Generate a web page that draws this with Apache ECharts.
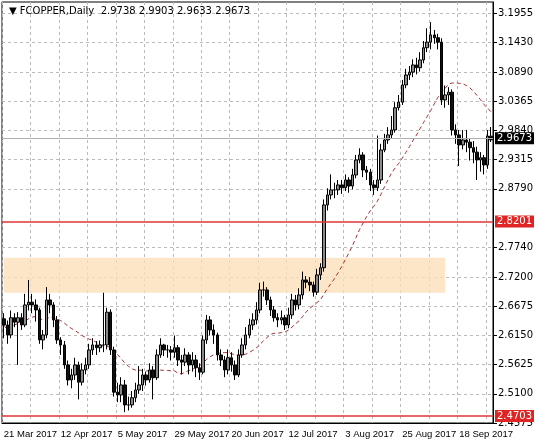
<!DOCTYPE html>
<html><head><meta charset="utf-8">
<script src="https://cdn.jsdelivr.net/npm/echarts@6/dist/echarts.min.js"></script>
<style>html,body{margin:0;padding:0;background:#fff}#c{width:536px;height:446px}</style>
</head><body><div id="c"></div>
<script>
const closes=[2.634,2.616,2.647,2.639,2.647,2.634,2.670,2.675,2.670,2.661,2.607,2.616,2.679,2.670,2.643,2.607,2.598,2.562,2.535,2.544,2.562,2.531,2.553,2.562,2.589,2.598,2.593,2.598,2.598,2.657,2.589,2.513,2.508,2.526,2.490,2.490,2.503,2.517,2.526,2.544,2.535,2.553,2.539,2.580,2.598,2.589,2.589,2.585,2.593,2.571,2.567,2.580,2.562,2.571,2.557,2.549,2.607,2.643,2.625,2.616,2.580,2.571,2.553,2.575,2.562,2.544,2.580,2.598,2.616,2.634,2.643,2.661,2.697,2.697,2.679,2.661,2.647,2.643,2.647,2.634,2.652,2.679,2.670,2.688,2.715,2.711,2.706,2.693,2.724,2.737,2.850,2.868,2.877,2.877,2.886,2.881,2.895,2.884,2.904,2.931,2.940,2.913,2.909,2.886,2.881,2.895,2.949,2.967,2.976,2.985,3.025,3.035,3.066,3.084,3.089,3.102,3.097,3.111,3.133,3.143,3.156,3.151,3.143,3.039,3.048,3.053,2.985,2.976,2.958,2.967,2.963,2.953,2.945,2.931,2.935,2.922,2.974,2.9673];
const opens=[2.645,2.634,2.616,2.647,2.639,2.647,2.634,2.670,2.675,2.670,2.661,2.607,2.616,2.679,2.670,2.643,2.607,2.598,2.562,2.535,2.544,2.562,2.531,2.553,2.562,2.589,2.598,2.593,2.598,2.598,2.657,2.589,2.513,2.508,2.526,2.490,2.490,2.503,2.517,2.526,2.544,2.535,2.553,2.539,2.580,2.598,2.589,2.589,2.585,2.593,2.571,2.567,2.580,2.562,2.571,2.557,2.549,2.607,2.643,2.625,2.616,2.580,2.571,2.553,2.575,2.562,2.544,2.580,2.598,2.616,2.634,2.643,2.661,2.697,2.697,2.679,2.661,2.647,2.643,2.647,2.634,2.652,2.679,2.670,2.688,2.715,2.711,2.706,2.693,2.724,2.737,2.850,2.868,2.877,2.877,2.886,2.881,2.895,2.884,2.904,2.931,2.940,2.913,2.909,2.886,2.881,2.895,2.949,2.967,2.976,2.985,3.025,3.035,3.066,3.084,3.089,3.102,3.097,3.111,3.133,3.143,3.156,3.151,3.143,3.039,3.048,3.053,2.985,2.976,2.958,2.967,2.963,2.953,2.945,2.931,2.935,2.922,2.9738];
const highs=[2.655,2.642,2.660,2.655,2.657,2.655,2.690,2.715,2.690,2.680,2.665,2.625,2.702,2.690,2.675,2.650,2.612,2.605,2.570,2.555,2.575,2.568,2.565,2.575,2.600,2.610,2.605,2.606,2.692,2.665,2.662,2.595,2.530,2.540,2.535,2.505,2.515,2.530,2.560,2.555,2.550,2.565,2.560,2.590,2.610,2.600,2.598,2.596,2.615,2.598,2.580,2.592,2.585,2.585,2.580,2.565,2.615,2.652,2.650,2.635,2.620,2.590,2.578,2.590,2.585,2.570,2.590,2.610,2.630,2.645,2.655,2.675,2.710,2.712,2.702,2.685,2.668,2.655,2.660,2.652,2.665,2.690,2.688,2.700,2.730,2.722,2.720,2.712,2.735,2.745,2.860,2.880,2.905,2.890,2.895,2.895,2.905,2.900,2.915,2.940,2.952,2.945,2.920,2.915,2.895,2.975,2.960,2.978,2.990,3.010,3.035,3.048,3.075,3.095,3.100,3.112,3.115,3.125,3.145,3.168,3.179,3.165,3.158,3.150,3.065,3.062,3.058,2.995,2.985,2.985,2.985,2.970,2.965,2.955,2.945,2.940,2.985,2.9903];
const lows=[2.610,2.600,2.610,2.630,2.562,2.625,2.630,2.660,2.655,2.640,2.600,2.590,2.610,2.655,2.630,2.600,2.580,2.555,2.525,2.520,2.535,2.500,2.525,2.545,2.555,2.580,2.580,2.585,2.585,2.590,2.580,2.505,2.495,2.495,2.477,2.480,2.485,2.495,2.510,2.515,2.525,2.530,2.500,2.535,2.575,2.578,2.575,2.570,2.575,2.560,2.545,2.560,2.545,2.550,2.540,2.535,2.545,2.600,2.615,2.600,2.570,2.560,2.540,2.545,2.550,2.535,2.540,2.575,2.590,2.610,2.625,2.635,2.655,2.685,2.670,2.650,2.640,2.630,2.635,2.625,2.628,2.645,2.660,2.662,2.680,2.700,2.695,2.685,2.688,2.715,2.730,2.840,2.860,2.862,2.868,2.870,2.875,2.872,2.878,2.898,2.925,2.900,2.895,2.875,2.868,2.875,2.888,2.945,2.960,2.970,2.980,3.020,3.030,3.060,3.075,3.080,3.085,3.090,3.105,3.125,3.130,3.140,3.130,3.030,3.025,3.030,2.975,2.960,2.920,2.950,2.945,2.930,2.925,2.895,2.910,2.905,2.915,2.9633];
const yTickValues=[2.4575,2.5100,2.5625,2.6150,2.6675,2.7200,2.7740,2.8790,2.9315,2.9840,3.0365,3.0890,3.1430,3.1955];
const supportLevels=[2.8201,2.4703];
const lastPrice=2.9673;
const zoneLow=2.692, zoneHigh=2.755, zoneEndIndex=124;
const headerText='\u25BC FCOPPER,Daily  2.9738 2.9903 2.9633 2.9673';

const M=['Jan','Feb','Mar','Apr','May','Jun','Jul','Aug','Sep','Oct','Nov','Dec'];
const dates=[];
let d=new Date(Date.UTC(2017,2,21));
while(dates.length<closes.length){
  const wd=d.getUTCDay();
  const isHol=(d.getUTCMonth()===3&&d.getUTCDate()===14);
  if(wd!==0&&wd!==6&&!isHol) dates.push(d.getUTCDate()+' '+M[d.getUTCMonth()]+' '+d.getUTCFullYear());
  d=new Date(d.getTime()+86400000);
}
const candles=closes.map((c,i)=>[opens[i],c,lows[i],highs[i]]);
const ma=closes.map((c,i)=>{const s=Math.max(0,i-19);let t=0;for(let k=s;k<=i;k++)t+=closes[k];return +(t/(i-s+1)).toFixed(4);});

const font='DejaVu Sans';
const lineLabel=(txt,bg)=>({show:true,position:'end',distance:2,formatter:txt,backgroundColor:bg,color:'#fff',padding:[1,2],fontSize:10,fontFamily:font});
const redLine={color:'#e03434',width:1.6,type:'solid',opacity:1};
const chart=echarts.init(document.getElementById('c'));
chart.setOption({
  animation:false,
  title:{text:headerText,left:4,top:1,textStyle:{fontSize:10,fontWeight:'normal',color:'#000',fontFamily:font}},
  grid:{left:2,right:34,top:2,bottom:23,show:true,borderColor:'#000',borderWidth:1,backgroundColor:'transparent'},
  xAxis:{type:'category',data:dates,boundaryGap:true,
    axisLine:{lineStyle:{color:'#000'}},
    axisTick:{interval:7,length:4,lineStyle:{color:'#000'}},
    axisLabel:{interval:15,align:'left',margin:6,fontSize:9.5,color:'#000',fontFamily:'Liberation Sans',hideOverlap:false,showMinLabel:true},
    splitLine:{show:true,interval:7,lineStyle:{color:'#bbb',type:[3,3]}}},
  yAxis:{type:'value',position:'right',min:2.4575,max:3.2153,
    axisLine:{show:true,lineStyle:{color:'#000'}},
    axisTick:{show:true,length:4,customValues:yTickValues,lineStyle:{color:'#000'}},
    axisLabel:{customValues:yTickValues,formatter:v=>v.toFixed(4),fontSize:10,color:'#000',fontFamily:font,margin:5},
    splitLine:{show:true,lineStyle:{color:'#bbb',type:[3,3]}}},
  series:[
    {type:'candlestick',data:candles,barWidth:3,
     itemStyle:{color:'#8a8a8a',color0:'#111',borderColor:'#000',borderColor0:'#000',borderWidth:1},
     markArea:{silent:true,data:[[{xAxis:0,yAxis:zoneLow,itemStyle:{color:'rgba(253,222,185,0.8)'}},{xAxis:zoneEndIndex,yAxis:zoneHigh}]]}},
    {type:'line',data:[],z:5,markLine:{silent:true,symbol:'none',animation:false,lineStyle:redLine,
      data:[{yAxis:supportLevels[0],lineStyle:redLine,label:lineLabel(supportLevels[0].toFixed(4),'#e02424')},
            {yAxis:supportLevels[1],lineStyle:redLine,label:lineLabel(supportLevels[1].toFixed(4),'#e02424')}]}},
    {type:'line',data:[],markLine:{silent:true,symbol:'none',animation:false,lineStyle:{color:'#b0b0b0',width:1,type:'solid'},
      data:[{yAxis:lastPrice,label:lineLabel(lastPrice.toFixed(4),'#000')}]}},
    {type:'line',data:ma,symbol:'none',lineStyle:{color:'#a03030',width:1,type:[4,3]},z:1}
  ]
});
</script></body></html>
